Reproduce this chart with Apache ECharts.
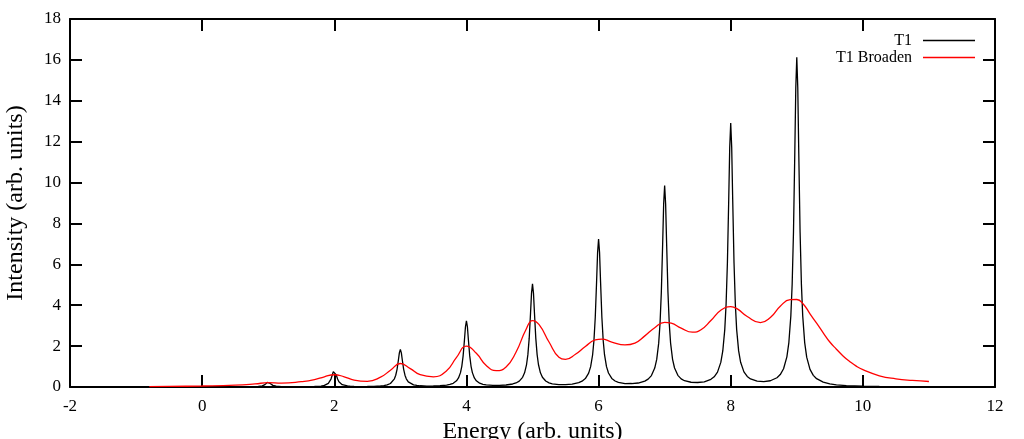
<!DOCTYPE html>
<html><head><meta charset="utf-8">
<script src="https://cdn.jsdelivr.net/npm/echarts@6/dist/echarts.min.js"></script>
<style>html,body{margin:0;padding:0;background:#fff}#c{width:1024px;height:439px}</style>
</head><body><div id="c"></div>
<script>
// T1 (sharp peaks)
const t1Energy = [-1,-0.5,0,0.5,
 0.6,0.7,0.75,0.8,0.85,0.88,0.91,0.93,0.95,0.97,0.985,1,1.015,1.03,1.05,1.07,1.09,1.12,1.15,1.2,1.25,1.3,1.4,1.5,
 1.6,1.7,1.75,1.8,1.85,1.88,1.91,1.93,1.95,1.97,1.985,2,2.015,2.03,2.05,2.07,2.09,2.12,2.15,2.2,2.25,2.3,2.4,2.5,
 2.6,2.7,2.75,2.8,2.85,2.88,2.91,2.93,2.95,2.97,2.985,3,3.015,3.03,3.05,3.07,3.09,3.12,3.15,3.2,3.25,3.3,3.4,3.5,
 3.6,3.7,3.75,3.8,3.85,3.88,3.91,3.93,3.95,3.97,3.985,4,4.015,4.03,4.05,4.07,4.09,4.12,4.15,4.2,4.25,4.3,4.4,4.5,
 4.6,4.7,4.75,4.8,4.85,4.88,4.91,4.93,4.95,4.97,4.985,5,5.015,5.03,5.05,5.07,5.09,5.12,5.15,5.2,5.25,5.3,5.4,5.5,
 5.6,5.7,5.75,5.8,5.85,5.88,5.91,5.93,5.95,5.97,5.985,6,6.015,6.03,6.05,6.07,6.09,6.12,6.15,6.2,6.25,6.3,6.4,6.5,
 6.6,6.7,6.75,6.8,6.85,6.88,6.91,6.93,6.95,6.97,6.985,7,7.015,7.03,7.05,7.07,7.09,7.12,7.15,7.2,7.25,7.3,7.4,7.5,
 7.6,7.7,7.75,7.8,7.85,7.88,7.91,7.93,7.95,7.97,7.985,8,8.015,8.03,8.05,8.07,8.09,8.12,8.15,8.2,8.25,8.3,8.4,8.5,
 8.6,8.7,8.75,8.8,8.85,8.88,8.91,8.93,8.95,8.97,8.985,9,9.015,9.03,9.05,9.07,9.09,9.12,9.15,9.2,9.25,9.3,9.4,9.5,
 9.6,9.75,10,10.25,10.5,11];
const t1Intensity = [0.001,0.002,0.003,0.005,
 0.006,0.009,0.011,0.015,0.024,0.035,0.054,0.077,0.115,0.173,0.221,0.243,0.222,0.175,0.117,0.079,0.056,0.037,0.026,0.018,0.014,0.012,0.011,0.011,
 0.016,0.024,0.032,0.047,0.077,0.113,0.179,0.258,0.388,0.587,0.749,0.825,0.749,0.588,0.39,0.26,0.181,0.115,0.079,0.05,0.035,0.028,0.022,0.027,
 0.034,0.052,0.07,0.103,0.171,0.25,0.399,0.575,0.864,1.307,1.668,1.839,1.669,1.308,0.865,0.576,0.40,0.252,0.173,0.107,0.076,0.06,0.045,0.05,
 0.061,0.092,0.123,0.181,0.301,0.441,0.702,1.012,1.521,2.30,2.935,3.235,2.936,2.301,1.522,1.013,0.704,0.444,0.305,0.187,0.131,0.102,0.076,0.081,
 0.098,0.147,0.197,0.286,0.472,0.692,1.099,1.583,2.376,3.591,4.58,5.049,4.582,3.593,2.378,1.585,1.101,0.694,0.477,0.293,0.203,0.156,0.115,0.12,
 0.143,0.212,0.283,0.411,0.681,0.994,1.578,2.272,3.41,5.152,6.57,7.242,6.572,5.154,3.412,2.274,1.58,0.996,0.684,0.419,0.294,0.228,0.166,0.17,
 0.195,0.289,0.384,0.559,0.924,1.351,2.146,3.091,4.64,7.012,8.944,9.856,8.945,7.014,4.642,3.094,2.149,1.355,0.929,0.57,0.398,0.307,0.232,0.22,
 0.252,0.377,0.501,0.729,1.204,1.763,2.805,4.044,6.074,9.184,11.715,12.911,11.717,9.186,6.076,4.046,2.807,1.765,1.209,0.738,0.514,0.393,0.286,0.26,
 0.305,0.453,0.607,0.891,1.477,2.174,3.478,5.029,7.571,11.466,14.637,16.133,14.635,11.462,7.565,5.02,3.467,2.16,1.459,0.861,0.569,0.406,0.237,0.153,
 0.108,0.07,0.042,0.028,0.02,0.01];
// T1 Broaden
const brEnergy = [-0.8,-0.5,0,0.5,0.8,1.0,1.2,1.5,1.7,1.85,2.0,2.15,2.3,2.5,2.7,2.85,3.0,3.15,3.3,3.5,
 3.7,3.85,4.0,4.15,4.3,4.45,4.6,4.75,4.9,5.0,5.1,5.25,5.4,5.5,5.65,5.8,5.95,6.05,6.2,6.4,6.55,
 6.7,6.85,7.0,7.1,7.25,7.42,7.55,7.7,7.85,8.0,8.1,8.25,8.45,8.6,8.75,8.9,9.0,9.1,9.2,9.3,9.4,
 9.5,9.6,9.7,9.8,9.9,10.0,10.25,10.5,10.75,11.0];
const brIntensity = [0.02,0.03,0.05,0.09,0.15,0.21,0.19,0.26,0.36,0.5,0.6,0.5,0.34,0.28,0.48,0.82,1.15,0.9,0.6,0.5,
 0.8,1.45,2.0,1.65,1.05,0.8,0.98,1.7,2.8,3.25,3.05,2.2,1.45,1.35,1.6,1.98,2.3,2.34,2.2,2.06,2.15,
 2.5,2.9,3.16,3.12,2.88,2.68,2.8,3.25,3.75,3.93,3.82,3.45,3.15,3.4,3.95,4.27,4.28,4.05,3.58,3.12,2.65,
 2.2,1.85,1.52,1.25,1.02,0.85,0.55,0.4,0.32,0.27];
const seriesNames = ['T1','T1 Broaden'];
const xName = 'Energy (arb. units)';
const yName = 'Intensity (arb. units)';

const FONT = 'Liberation Serif';
const zip = (a,b) => a.map((v,i)=>[v,b[i]]);
const axisLine = {show:true, onZero:false, lineStyle:{color:'#000', width:2}};
const tick = {show:true, inside:true, length:12, lineStyle:{color:'#000', width:2}};
const chart = echarts.init(document.getElementById('c'), null, {renderer:'canvas'});
chart.setOption({
  animation:false,
  backgroundColor:'#fff',
  grid:{left:70, right:29, top:19, bottom:52, containLabel:false, outerBoundsMode:'none'},
  legend:{
    data:seriesNames, orient:'vertical', right:44, top:27, align:'right',
    icon:'rect', itemWidth:52, itemHeight:1.5, itemGap:0,
    textStyle:{fontFamily:FONT, fontSize:16, color:'#000', lineHeight:17, padding:[0,6,0,0]}
  },
  xAxis:[
    {type:'value', min:-2, max:12, interval:2, position:'bottom',
     axisLine, axisTick:tick, splitLine:{show:false},
     axisLabel:{margin:11, fontFamily:FONT, fontSize:17, color:'#000', showMinLabel:true, showMaxLabel:true},
     name:xName, nameLocation:'middle', nameGap:28,
     nameTextStyle:{fontFamily:FONT, fontSize:24, color:'#000'}},
    {type:'value', min:-2, max:12, interval:2, position:'top',
     axisLine, axisTick:tick, splitLine:{show:false}, axisLabel:{show:false}}
  ],
  yAxis:[
    {type:'value', min:0, max:18, interval:2, position:'left',
     axisLine, axisTick:tick, splitLine:{show:false},
     axisLabel:{margin:9, fontFamily:FONT, fontSize:17, color:'#000', showMinLabel:true, showMaxLabel:true},
     name:yName, nameLocation:'middle', nameGap:42,
     nameTextStyle:{fontFamily:FONT, fontSize:24, color:'#000'}},
    {type:'value', min:0, max:18, interval:2, position:'right',
     axisLine, axisTick:tick, splitLine:{show:false}, axisLabel:{show:false}}
  ],
  series:[
    {name:seriesNames[0], type:'line', data:zip(t1Energy,t1Intensity), showSymbol:false,
     smooth:false, color:'#000', lineStyle:{color:'#000', width:1.3}},
    {name:seriesNames[1], type:'line', data:zip(brEnergy,brIntensity), showSymbol:false,
     smooth:0.5, color:'#ff0000', lineStyle:{color:'#ff0000', width:1.3}}
  ]
});
</script></body></html>
